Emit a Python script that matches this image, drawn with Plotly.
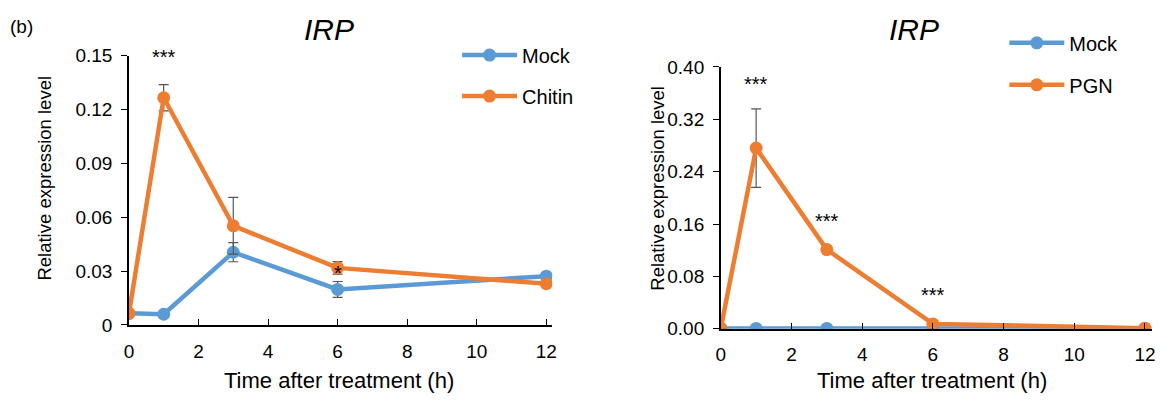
import plotly.graph_objects as go

time = [0, 1, 3, 6, 12]
# Left panel (Chitin)
mock_l = [0.0065, 0.006, 0.0405, 0.0198, 0.0272]
mock_l_err = [0.0005, 0.0005, 0.0053, 0.0044, 0.0015]
chitin = [0.0065, 0.1265, 0.0552, 0.0318, 0.023]
chitin_err = [0.0005, 0.0073, 0.0158, 0.0035, 0.0012]
# Right panel (PGN)
mock_r = [0.0005, 0.0005, 0.0005, 0.0005, 0.0005]
mock_r_err = [0.0, 0.0, 0.0, 0.0, 0.0]
pgn = [0.0005, 0.276, 0.121, 0.0075, 0.001]
pgn_err = [0.0, 0.06, 0.003, 0.001, 0.0002]

stars_l = [(1, 0.149, "***"), (6, 0.029, "*")]
stars_r = [(1, 0.374, "***"), (3, 0.164, "***"), (6, 0.051, "***")]

x_ticks = [0, 2, 4, 6, 8, 10, 12]
yl_ticks = [0, 0.03, 0.06, 0.09, 0.12, 0.15]
yl_text = ["0", "0.03", "0.06", "0.09", "0.12", "0.15"]
yr_ticks = [0, 0.08, 0.16, 0.24, 0.32, 0.40]

BLUE = "#5B9BD5"
ORANGE = "#ED7D31"
FONT = "Liberation Sans, Arial, sans-serif"
W, H = 1161, 410

def px(x):
    return x / W

def py(y):
    return (H - y) / H

fig = go.Figure()

def add(name, y, err, color, xa, ya, legend):
    fig.add_trace(go.Scatter(
        x=time, y=y, name=name, mode="lines+markers",
        line=dict(color=color, width=4.5),
        marker=dict(color=color, size=13),
        error_y=dict(type="data", array=err, visible=True, color="#555555", thickness=1.2, width=5),
        xaxis=xa, yaxis=ya, legend=legend, legendgroup=name + legend,
    ))

add("Mock", mock_l, mock_l_err, BLUE, "x", "y", "legend")
add("Chitin", chitin, chitin_err, ORANGE, "x", "y", "legend")
add("Mock", mock_r, mock_r_err, BLUE, "x2", "y2", "legend2")
add("PGN", pgn, pgn_err, ORANGE, "x2", "y2", "legend2")

axis_common = dict(showline=True, linecolor="black", linewidth=1.5, showgrid=False,
                   zeroline=False, tickfont=dict(family=FONT, size=19, color="black"),
                   ticklen=6, tickcolor="black", tickwidth=1.2)

fig.update_layout(
    width=W, height=H, margin=dict(l=0, r=0, t=0, b=0),
    plot_bgcolor="white", paper_bgcolor="white",
    font=dict(family=FONT, color="black"),
    xaxis=dict(domain=[px(125), px(552)], range=[0, 12.17], tickvals=x_ticks,
               ticks="inside", anchor="y", ticklabelstandoff=8, **axis_common),
    yaxis=dict(domain=[py(332), py(48)], range=[0, 0.15], tickvals=yl_ticks,
               ticktext=yl_text, ticks="outside", anchor="x", ticklabelstandoff=5, **axis_common),
    xaxis2=dict(domain=[px(722), px(1157)], range=[0, 12.2], tickvals=x_ticks,
                ticks="inside", anchor="y2", ticklabelstandoff=8, **axis_common),
    yaxis2=dict(domain=[py(336), py(60)], range=[0, 0.40], tickvals=yr_ticks,
                tickformat=".2f", ticks="outside", anchor="x2", ticklabelstandoff=5, **axis_common),
    legend=dict(x=px(456), y=py(27), xanchor="left", yanchor="top", bgcolor="rgba(0,0,0,0)",
                font=dict(size=20, family=FONT), traceorder="grouped", tracegroupgap=12, itemwidth=55),
    legend2=dict(x=px(1008), y=py(14), xanchor="left", yanchor="top", bgcolor="rgba(0,0,0,0)",
                 font=dict(size=20, family=FONT), traceorder="grouped", tracegroupgap=13, itemwidth=55),
    showlegend=True,
)

ann = []
for x, y, t in stars_l:
    ann.append(dict(x=x, y=y, xref="x", yref="y", text=t, showarrow=False,
                    xanchor="center", yanchor="middle",
                    font=dict(size=20, family=FONT, color="black")))
for x, y, t in stars_r:
    ann.append(dict(x=x, y=y, xref="x2", yref="y2", text=t, showarrow=False,
                    xanchor="center", yanchor="middle",
                    font=dict(size=20, family=FONT, color="black")))
# titles
for cx in [327, 917]:
    ann.append(dict(x=px(cx), y=py(21), xref="paper", yref="paper", text="<i>IRP</i>", showarrow=False,
                    xanchor="center", yanchor="middle",
                    font=dict(size=30, family=FONT, color="black")))
ann.append(dict(x=px(3), y=py(17), xref="paper", yref="paper", text="(b)", showarrow=False,
                xanchor="left", yanchor="middle",
                font=dict(size=19, family=FONT, color="black")))
# axis titles
for cx, cy in [(40, 177), (658, 188)]:
    ann.append(dict(x=px(cx), y=py(cy), xref="paper", yref="paper", text="Relative expression level",
                    showarrow=False, textangle=-90, xanchor="center", yanchor="middle",
                    font=dict(size=18.5, family=FONT, color="black")))
for cx, cy in [(337, 391), (935, 391)]:
    ann.append(dict(x=px(cx), y=py(cy), xref="paper", yref="paper", text="Time after treatment (h)",
                    showarrow=False, xanchor="center", yanchor="middle",
                    font=dict(size=22, family=FONT, color="black")))
fig.update_layout(annotations=ann)

fig.write_html("out.html")
